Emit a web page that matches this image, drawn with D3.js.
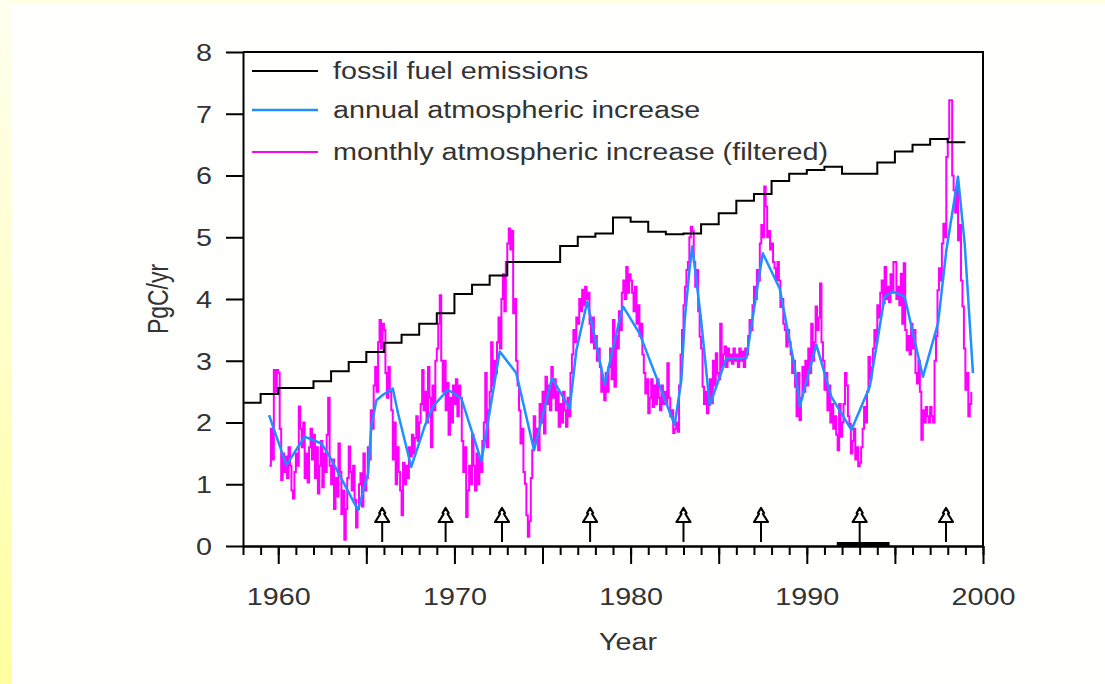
<!doctype html>
<html>
<head>
<meta charset="UTF-8">
<title>Fossil fuel emissions and atmospheric increase</title>
<script src="https://d3js.org/d3.v7.min.js"></script>
<style>
  body { margin: 0; background: #ffffff; }
</style>
</head>
<body>
<script>

// -------------------------------------- colours

var black_col = "#000000";
var text_col = "#333333";
var blue_col = "#1e90ff";
var pink_col = "#ff00ff";
var back_col = "#fffffe";

// -------------------------------------- data

// fossil fuel emissions, one step per calendar year
var fossilYears = [1958, 1959, 1960, 1961, 1962, 1963, 1964, 1965, 1966, 1967,
                   1968, 1969, 1970, 1971, 1972, 1973, 1974, 1975, 1976, 1977,
                   1978, 1979, 1980, 1981, 1982, 1983, 1984, 1985, 1986, 1987,
                   1988, 1989, 1990, 1991, 1992, 1993, 1994, 1995, 1996, 1997, 1998];
var fossilValues = [2.32, 2.46, 2.56, 2.56, 2.67, 2.83, 2.98, 3.14, 3.29, 3.42,
                    3.60, 3.77, 4.08, 4.23, 4.38, 4.60, 4.60, 4.60, 4.86, 5.01,
                    5.06, 5.32, 5.25, 5.09, 5.05, 5.06, 5.21, 5.39, 5.59, 5.70,
                    5.91, 6.03, 6.09, 6.14, 6.03, 6.03, 6.21, 6.39, 6.50, 6.59, 6.54];
var fossilEnd = 1999;

// annual atmospheric increase (turning points of the blue curve)
var annualYears = [1959.48, 1960.46, 1961.5, 1962.45, 1962.92, 1964.53, 1965.1, 1965.28, 1965.57, 1965.95,
                   1966.5, 1966.8, 1967.55, 1968.3, 1968.78, 1969.63, 1970.39, 1971.53, 1972.57, 1973.51,
                   1974.52, 1975.54, 1976.54, 1976.92, 1977.54, 1978.53, 1979.28, 1979.57, 1980.51, 1982.5,
                   1982.88, 1983.07, 1983.35, 1983.5, 1983.73, 1984.0, 1984.49, 1985.43, 1986.57, 1986.76,
                   1987.5, 1988.46, 1989.31, 1989.6, 1990.54, 1991.39, 1992.53, 1993.57, 1994.42, 1994.89,
                   1995.55, 1996.59, 1997.45, 1997.92, 1998.58, 1998.96, 1999.43];
var annualValues = [2.12, 1.31, 1.77, 1.66, 1.45, 0.58, 1.18, 1.93, 2.36, 2.45,
                    2.55, 2.15, 1.28, 1.93, 2.26, 2.53, 2.39, 1.37, 3.15, 2.80,
                    1.55, 2.72, 2.23, 3.17, 3.96, 2.61, 3.55, 3.88, 3.44, 1.96,
                    2.69, 3.66, 4.50, 4.85, 4.31, 3.66, 2.28, 3.04, 3.04, 3.39,
                    4.74, 4.17, 2.90, 2.26, 3.26, 2.42, 1.88, 2.58, 4.04, 4.12,
                    4.04, 2.74, 3.61, 4.79, 5.98, 4.90, 2.80];

// monthly atmospheric increase (filtered), from July 1959
var monthlyStart = 1959.5;
var monthlyValues = [
  1.3, 1.9, 1.4, 2.85, 2.5, 2.85,                                   // 1959
  2.8, 1.9, 1.07, 1.5, 1.2, 1.45, 1.1, 1.6, 1.3, 0.9, 0.77, 1.2,     // 1960
  1.5, 1.3, 2.26, 1.9, 1.6, 2.0, 1.1, 1.5, 1.03, 1.6, 1.9, 1.4,      // 1961
  1.8, 1.1, 1.6, 0.85, 1.3, 1.7, 0.95, 1.5, 1.2, 1.8, 2.4, 1.3,      // 1962
  1.0, 1.4, 0.6, 1.1, 0.8, 1.66, 1.2, 0.52, 0.9, 0.1, 0.6, 1.1,      // 1963
  1.61, 1.2, 0.9, 1.3, 0.75, 0.3, 0.6, 1.0, 1.18, 0.64, 1.5, 0.9,    // 1964
  1.1, 1.6, 1.4, 2.2, 1.9, 2.6, 2.9, 2.5, 3.3, 3.66, 3.2, 3.6,       // 1965
  3.5, 2.8, 2.4, 2.9, 2.5, 2.2, 1.4, 2.0, 1.0, 1.6, 1.2, 0.9,        // 1966
  0.5, 1.35, 1.0, 1.3, 1.1, 1.6, 1.45, 1.8, 1.5, 1.75, 2.1, 1.7,     // 1967
  2.0, 2.3, 2.85, 2.2, 2.5, 2.0, 2.9, 2.4, 1.6, 2.6, 2.2, 3.0,       // 1968
  3.2, 3.6, 4.06, 3.0, 2.5, 3.0, 2.2, 2.64, 1.8, 2.4, 2.0, 2.6,      // 1969
  2.3, 2.7, 2.1, 2.6, 2.4, 1.7, 1.2, 1.6, 0.47, 0.9, 1.3, 1.0,       // 1970
  1.8, 1.3, 0.9, 1.5, 1.0, 1.4, 1.2, 1.7, 2.0, 2.8, 1.6, 2.2,        // 1971
  2.5, 3.3, 2.6, 3.0, 2.8, 3.3, 3.7, 3.2, 4.0, 4.4, 3.8, 4.6,        // 1972
  4.9, 5.14, 4.8, 5.1, 3.77, 4.0, 3.0, 2.6, 2.2, 1.66, 1.9, 1.2,     // 1973
  1.01, 0.5, 0.15, 0.4, 1.1, 1.55, 2.1, 1.7, 1.9, 1.55, 2.3, 2.0,    // 1974
  2.5, 1.82, 2.74, 2.3, 2.6, 2.2, 2.9, 2.4, 2.7, 2.2, 2.5, 1.93,     // 1975
  2.3, 2.0, 2.5, 2.2, 1.93, 2.4, 2.1, 2.8, 3.1, 3.5, 3.3, 3.7,       // 1976
  3.6, 4.0, 3.8, 4.15, 3.9, 4.2, 4.0, 4.1, 3.6, 3.3, 3.7, 3.2,       // 1977
  3.4, 3.0, 3.2, 2.9, 2.5, 2.7, 2.36, 2.8, 2.5, 2.9, 3.2, 2.7,       // 1978
  3.66, 2.58, 3.4, 3.2, 3.8, 3.5, 4.1, 4.3, 4.0, 4.52, 4.1, 4.4,     // 1979
  4.3, 4.1, 3.8, 4.2, 3.6, 3.9, 3.4, 3.6, 3.1, 2.8, 2.47, 2.7,       // 1980
  2.15, 2.4, 2.7, 2.25, 2.6, 2.3, 2.7, 2.4, 2.2, 2.6, 2.3, 2.5,      // 1981
  2.3, 2.96, 2.4, 2.1, 2.2, 1.83, 1.9, 2.0, 1.85, 2.6, 3.1, 3.5,     // 1982
  3.9, 4.2, 4.47, 4.6, 5.0, 5.17, 5.1, 4.6, 4.2, 4.47, 3.8, 3.39,    // 1983
  3.2, 2.58, 2.3, 2.5, 2.15, 2.4, 2.7, 2.31, 3.0, 2.6, 3.12, 2.8,    // 1984
  2.7, 3.6, 2.9, 3.1, 3.23, 2.9, 3.2, 3.0, 3.1, 2.95, 3.2, 3.0,      // 1985
  3.1, 2.9, 3.2, 3.0, 3.15, 2.9, 3.2, 3.1, 3.4, 3.66, 3.5, 3.9,      // 1986
  4.2, 4.0, 4.47, 4.3, 4.9, 5.2, 5.0, 5.82, 5.5, 5.0, 5.1, 4.8,      // 1987
  4.9, 4.6, 4.5, 4.3, 4.6, 4.3, 3.87, 4.0, 3.6, 3.5, 3.23, 3.5,      // 1988
  3.3, 3.1, 2.8, 3.0, 2.58, 2.1, 2.8, 2.04, 2.4, 2.9, 2.5, 3.0,      // 1989
  2.6, 3.2, 2.8, 3.6, 3.0, 3.3, 3.88, 3.5, 3.7, 4.25, 3.3, 3.0,      // 1990
  2.53, 2.8, 2.2, 2.6, 2.0, 2.3, 1.9, 2.1, 1.8, 1.55, 2.3, 1.77,     // 1991
  2.0, 2.3, 2.8, 2.6, 2.1, 1.98, 1.5, 1.7, 1.9, 1.4, 1.6, 1.29,      // 1992
  1.35, 1.6, 1.9, 2.25, 2.0, 2.5, 3.06, 2.7, 2.9, 3.2, 3.5, 3.3,     // 1993
  3.9, 3.7, 4.1, 4.3, 3.93, 4.52, 4.0, 4.2, 3.95, 4.4, 4.1, 4.6,     // 1994
  4.6, 4.0, 4.2, 3.9, 4.41, 3.6, 4.58, 3.5, 3.17, 3.4, 3.1, 3.6,     // 1995
  3.2, 3.5, 2.8, 2.63, 3.0, 2.5, 1.72, 2.2, 2.0, 2.25, 2.1, 2.0,     // 1996
  2.25, 2.1, 2.0, 3.0, 3.4, 4.14, 4.5, 4.3, 4.9, 5.22, 5.0, 6.3,     // 1997
  6.6, 7.22, 7.22, 6.0, 5.76, 5.4, 5.8, 4.95, 5.2, 4.3, 3.88, 3.2,   // 1998
  2.53, 2.8, 2.1, 2.3, 2.5                                           // 1999
];

// El Nino arrows and the Pinatubo bar on the time axis
var eventYears = [1965.9, 1969.5, 1972.7, 1977.7, 1983.0, 1987.4, 1993.0, 1997.9];
var barRange = [1991.7, 1994.7];

// ticks and labels
var yTicks = [0, 1, 2, 3, 4, 5, 6, 7, 8];
var xMinorTicks = d3.range(1958, 2001);
var xMajorTicks = [1960, 1965, 1970, 1975, 1980, 1985, 1990, 1995, 2000];
var legendLabels = ["fossil fuel emissions", "annual atmospheric increase", "monthly atmospheric increase (filtered)"];
var legendColors = [black_col, blue_col, pink_col];
var legendWidths = [2, 2.5, 2];

// -------------------------------------- svg board

var W = 1105, H = 684;
var stretch = "scale(1.25,1)";
var font = "'Liberation Sans', Arial, sans-serif";

var svg = d3.select("body").append("svg")
    .attr("width", W)
    .attr("height", H)
    .style("display", "block");

var defs = svg.append("defs");
var grad = defs.append("linearGradient")
    .attr("id", "strip")
    .attr("x1", 0).attr("y1", 0).attr("x2", 0).attr("y2", 1);
grad.append("stop").attr("offset", "0%").attr("stop-color", "#fffff0");
grad.append("stop").attr("offset", "100%").attr("stop-color", "#ffffa0");

svg.append("rect").attr("width", W).attr("height", H).style("fill", back_col);
svg.append("rect").attr("width", W).attr("height", 4).style("fill", "#ffffe4");
svg.append("rect").attr("width", 12).attr("height", H).style("fill", "url(#strip)");

// -------------------------------------- scales

var x = d3.scaleLinear().domain([1958, 2000]).range([243, 983]);
var y = d3.scaleLinear().domain([0, 8]).range([546, 52]);

// -------------------------------------- axes

var gy = svg.append("g")
    .attr("transform", "translate(" + x(1958) + ",0)")
    .call(d3.axisLeft(y).tickValues(yTicks).tickSize(17).tickSizeOuter(0));

gy.selectAll("text")
    .attr("x", -31 / 1.25)
    .attr("dy", "0.36em")
    .attr("transform", stretch);

var gxMinor = svg.append("g")
    .attr("transform", "translate(0," + y(0) + ")")
    .call(d3.axisBottom(x).tickValues(xMinorTicks).tickSize(9).tickSizeOuter(0).tickFormat(""));

var gxMajor = svg.append("g")
    .attr("transform", "translate(0," + y(0) + ")")
    .call(d3.axisBottom(x).tickValues(xMajorTicks).tickSize(18).tickSizeOuter(0)
        .tickFormat(d => d % 10 === 0 ? d : ""));

gxMajor.selectAll("text")
    .attr("y", 0)
    .attr("dy", 0)
    .attr("transform", "translate(0,59) " + stretch);

svg.selectAll(".domain, .tick line")
    .style("stroke", black_col)
    .style("stroke-width", 2);

svg.selectAll(".tick text")
    .style("font-family", font)
    .style("font-size", "23px")
    .style("fill", text_col);

// frame: top and right
svg.append("path")
    .attr("d", "M" + x(1958) + "," + y(8) + "H" + x(2000) + "V" + y(0))
    .style("fill", "none")
    .style("stroke", black_col)
    .style("stroke-width", 2);

// axis titles
svg.append("text")
    .text("Year")
    .attr("transform", "translate(" + x(1979.85) + ",650) " + stretch)
    .style("text-anchor", "middle")
    .style("font-family", font)
    .style("font-size", "23px")
    .style("fill", text_col);

svg.append("text")
    .text("PgC/yr")
    .attr("transform", "translate(168," + y(4) + ") " + stretch + " rotate(-90)")
    .style("text-anchor", "middle")
    .style("font-family", font)
    .style("font-size", "23px")
    .style("fill", text_col);

// -------------------------------------- lines

var plot = svg.append("g");

// monthly (pink)
var monthly = monthlyValues.map((v, i) => ({ t: monthlyStart + i / 12, v: v }));
plot.append("path")
    .datum(monthly)
    .attr("d", d3.line().x(d => x(d.t)).y(d => y(d.v)).curve(d3.curveStepAfter))
    .style("fill", "none")
    .style("stroke", pink_col)
    .style("stroke-width", 2);

// annual (blue)
var annual = annualYears.map((t, i) => ({ t: t, v: annualValues[i] }));
plot.append("path")
    .datum(annual)
    .attr("d", d3.line().x(d => x(d.t)).y(d => y(d.v)))
    .style("fill", "none")
    .style("stroke", blue_col)
    .style("stroke-width", 2.5)
    .style("stroke-linejoin", "round");

// fossil fuel (black steps)
var fossil = fossilYears.map((t, i) => ({ t: t, v: fossilValues[i] }));
fossil.push({ t: fossilEnd, v: fossilValues[fossilValues.length - 1] });
plot.append("path")
    .datum(fossil)
    .attr("d", d3.line().x(d => x(d.t)).y(d => y(d.v)).curve(d3.curveStepAfter))
    .style("fill", "none")
    .style("stroke", black_col)
    .style("stroke-width", 2);

// -------------------------------------- event markers

plot.append("rect")
    .attr("x", x(barRange[0]))
    .attr("width", x(barRange[1]) - x(barRange[0]))
    .attr("y", y(0) - 4)
    .attr("height", 4)
    .style("fill", black_col);

var arrows = plot.selectAll("g.arrow")
    .data(eventYears)
    .enter().append("g")
    .attr("class", "arrow")
    .attr("transform", d => "translate(" + x(d) + "," + y(0) + ")");

arrows.append("line")
    .attr("y1", -4).attr("y2", -24)
    .style("stroke", black_col)
    .style("stroke-width", 2);

arrows.append("path")
    .attr("d", "M0,-38 L-3,-33 L-2,-32 L-7,-24 L7,-24 L2,-32 L3,-33 Z")
    .style("fill", "#ffffff")
    .style("stroke", black_col)
    .style("stroke-width", 2.2)
    .style("stroke-linejoin", "round");

// -------------------------------------- legend

var legendY = [71, 110, 152];

var legend = svg.selectAll("g.legend")
    .data(legendLabels)
    .enter().append("g")
    .attr("class", "legend")
    .attr("transform", (d, i) => "translate(252," + legendY[i] + ")");

legend.append("line")
    .attr("x1", 0).attr("x2", 66)
    .style("stroke", (d, i) => legendColors[i])
    .style("stroke-width", (d, i) => legendWidths[i]);

legend.append("text")
    .text(d => d)
    .attr("dy", "0.36em")
    .attr("transform", "translate(81,0) " + stretch)
    .style("font-family", font)
    .style("font-size", "23px")
    .style("fill", text_col);

</script>
</body>
</html>
